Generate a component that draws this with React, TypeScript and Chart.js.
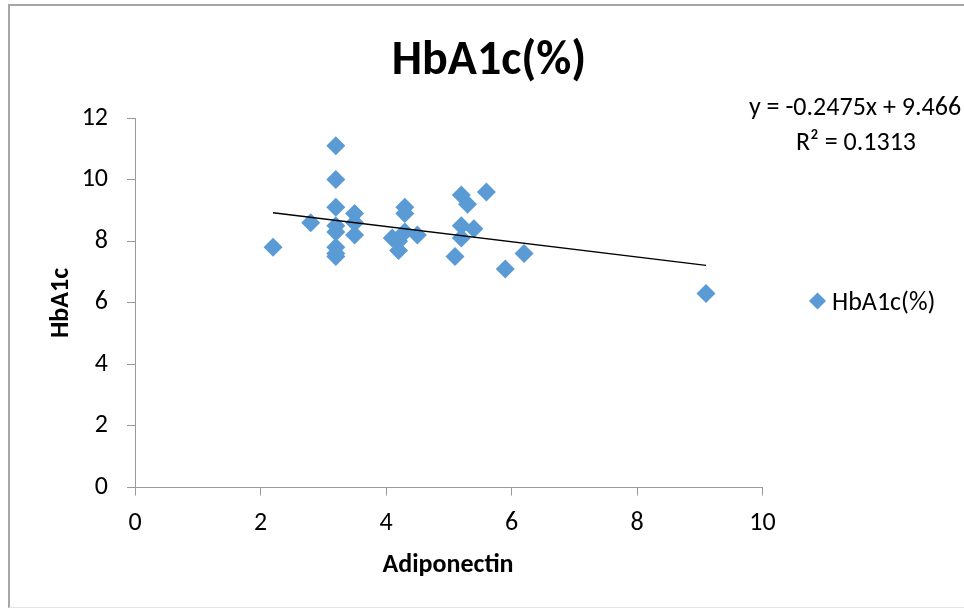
import React, { useEffect, useRef } from "react";
import { Chart, registerables } from "chart.js";

Chart.register(...registerables);

// ---- data ----
const chartTitle = "HbA1c(%)";
const seriesName = "HbA1c(%)";
const xAxisTitle = "Adiponectin";
const yAxisTitle = "HbA1c";

const adiponectin = [
  2.2, 2.8, 3.2, 3.2, 3.2, 3.2, 3.2, 3.2, 3.2, 3.2, 3.5, 3.5, 3.5, 4.1, 4.2,
  4.2, 4.3, 4.3, 4.3, 4.5, 5.1, 5.2, 5.2, 5.2, 5.3, 5.4, 5.6, 5.9, 6.2, 9.1,
];
const hba1c = [
  7.8, 8.6, 11.1, 10.0, 9.1, 8.5, 8.3, 7.8, 7.6, 7.5, 8.9, 8.6, 8.2, 8.1, 8.0,
  7.7, 9.1, 8.9, 8.3, 8.2, 7.5, 9.5, 8.5, 8.1, 9.2, 8.4, 9.6, 7.1, 7.6, 6.3,
];

const trendSlope = -0.2475;
const trendIntercept = 9.466;
const rSquared = 0.1313;

const xRange = [0, 10];
const xStep = 2;
const yRange = [0, 12];
const yStep = 2;

// ---- style ----
const FONT = "Carlito, Calibri, 'Liberation Sans', sans-serif";
const MARKER = "#5b9bd5";
const AXIS = "#9a9a9a";

const overlay = {
  id: "overlay",
  afterDraw(chart: any) {
    const ctx = chart.ctx as CanvasRenderingContext2D;
    ctx.save();
    ctx.fillStyle = "#000";
    ctx.textBaseline = "alphabetic";

    // title
    ctx.textAlign = "center";
    ctx.font = `bold 48px ${FONT}`;
    ctx.fillText(chartTitle, 489, 74);

    // trendline equation
    ctx.font = `26px ${FONT}`;
    const sign = trendIntercept >= 0 ? "+" : "-";
    ctx.fillText(
      `y = ${trendSlope}x ${sign} ${Math.abs(trendIntercept)}`,
      855,
      115
    );
    ctx.fillText(`R\u00B2 = ${rSquared}`, 856, 150);

    // legend
    const lx = 817.5;
    const ly = 301;
    const r = 8.5;
    ctx.fillStyle = MARKER;
    ctx.beginPath();
    ctx.moveTo(lx - r, ly);
    ctx.lineTo(lx, ly - r);
    ctx.lineTo(lx + r, ly);
    ctx.lineTo(lx, ly + r);
    ctx.closePath();
    ctx.fill();
    ctx.fillStyle = "#000";
    ctx.textAlign = "left";
    ctx.font = `26px ${FONT}`;
    ctx.fillText(seriesName, 832, 309.5);

    // axis titles
    ctx.font = `bold 26px ${FONT}`;
    ctx.textAlign = "center";
    ctx.fillText(xAxisTitle, 448, 572);
    ctx.translate(68, 303);
    ctx.rotate(-Math.PI / 2);
    ctx.fillText(yAxisTitle, 0, 0);
    ctx.restore();
  },
};

export default function App() {
  const ref = useRef<HTMLCanvasElement | null>(null);

  useEffect(() => {
    if (!ref.current) return;
    const points = adiponectin.map((x, i) => ({ x, y: hba1c[i] }));
    const minX = Math.min(...adiponectin);
    const maxX = Math.max(...adiponectin);
    const trend = [
      { x: minX, y: trendSlope * minX + trendIntercept },
      { x: maxX, y: trendSlope * maxX + trendIntercept },
    ];

    const tickFont = { family: FONT, size: 26 };

    const chart = new Chart(ref.current, {
      type: "scatter",
      data: {
        datasets: [
          {
            type: "line",
            label: "Linear (" + seriesName + ")",
            data: trend,
            borderColor: "#000",
            borderWidth: 1.5,
            pointRadius: 0,
            fill: false,
            order: 0,
          } as any,
          {
            type: "scatter",
            label: seriesName,
            data: points,
            pointStyle: "rectRot",
            pointRadius: 9.5,
            backgroundColor: MARKER,
            borderColor: MARKER,
            borderWidth: 0,
            order: 1,
          } as any,
        ],
      },
      options: {
        animation: false,
        responsive: false,
        devicePixelRatio: 1,
        layout: { padding: { left: 0, right: 201.5, top: 118, bottom: 0 } },
        plugins: {
          legend: { display: false },
          title: { display: false },
          tooltip: { enabled: false },
        },
        scales: {
          x: {
            type: "linear",
            min: xRange[0],
            max: xRange[1],
            ticks: {
              stepSize: xStep,
              color: "#000",
              font: tickFont,
              padding: 12,
              maxRotation: 0,
            },
            grid: {
              drawOnChartArea: false,
              drawTicks: true,
              tickLength: 8,
              color: AXIS,
            },
            border: { display: true, color: AXIS, width: 1 },
            afterFit: (s: any) => {
              s.height = 123.5;
            },
          },
          y: {
            type: "linear",
            min: yRange[0],
            max: yRange[1],
            ticks: {
              stepSize: yStep,
              color: "#000",
              font: tickFont,
              padding: 19,
            },
            grid: {
              drawOnChartArea: false,
              drawTicks: true,
              tickLength: 8,
              color: AXIS,
            },
            border: { display: true, color: AXIS, width: 1 },
            afterFit: (s: any) => {
              s.width = 135;
            },
          },
        },
      } as any,
      plugins: [overlay],
    });
    return () => chart.destroy();
  }, []);

  return (
    <div
      style={{
        position: "absolute",
        left: 0,
        top: 0,
        width: 964,
        height: 611,
        overflow: "hidden",
        background: "#fff",
      }}
    >
      <div
        style={{
          position: "absolute",
          left: 8,
          top: 4,
          width: 980,
          height: 604,
          borderLeft: "2px solid #a6a6a6",
          borderTop: "2px solid #a6a6a6",
          borderBottom: "1px solid #e6e6e6",
          boxSizing: "border-box",
        }}
      />
      <canvas
        ref={ref}
        width={964}
        height={611}
        style={{ position: "absolute", left: 0, top: 0, width: 964, height: 611 }}
      />
    </div>
  );
}
